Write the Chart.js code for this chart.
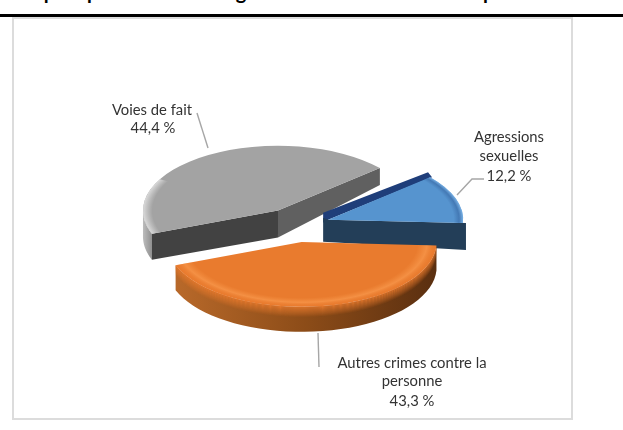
<!DOCTYPE html>
<html lang="fr">
<head>
<meta charset="utf-8">
<title>Catégories de crimes contre la personne</title>
<script src="https://cdn.jsdelivr.net/npm/chart.js@4"></script>
<style>
  html, body { margin: 0; padding: 0; background: #fff; overflow: hidden; }
  #page { position: relative; width: 623px; height: 430px; overflow: hidden; }
  #title1, #title2 { position: absolute; top: -21px; font: bold 20px/25px Lato, sans-serif; color: #000; white-space: nowrap; }
  #title1 { left: 3px; letter-spacing: 3px; }
  #title2 { left: 192px; letter-spacing: 0.6px; }
  #rule { position: absolute; left: 0; top: 14px; width: 623px; height: 3px; background: #000; }
  #frame { position: absolute; left: 12px; top: 17px; width: 561px; height: 403px; box-sizing: border-box; border: 2px solid #dcdcdc; }
  canvas { position: absolute; left: 0; top: 0; }
</style>
</head>
<body>
<div id="page">
  <div id="title1">Graphique 1 :</div>
  <div id="title2">Catégories de crimes contre la personne</div>
  <div id="rule"></div>
  <div id="frame"></div>
  <canvas id="chart" width="623" height="430"></canvas>
</div>
<script>
// Categories and shares
const categories = ["Agressions sexuelles", "Autres crimes contre la personne", "Voies de fait"];
const shares = [12.2, 43.3, 44.4];
const shareLabels = ["12,2 %", "43,3 %", "44,4 %"];
const sliceColors = ["#5694cf", "#e97b2e", "#a3a3a3"];

// 3D look of the pie
const squash = 0.48;
const pieX = 296;
const pieY = 225;
const explodeDist = [34, 36, 35];
const wallDepth = [27, 25, 26];
const apexDepth = [22, 25, 27];
const startDepth = [22, 25, 26]; // first edge of the slice, clockwise
const endDepth = [27, 25, 17];

const wallStops = [
  ["#8fa3b3", "#8fa3b3"],
  ["#b8692a", "#8c4c18", "#5a2f10"],
  ["#bdbdbd", "#8f8f8f"],
];
const rimStops = [
  [[0.93, "rgba(60,110,170,0)"], [0.97, "rgba(60,110,170,0.7)"], [1, "rgba(130,185,235,0.8)"]],
  [[0.86, "rgba(255,160,80,0)"], [0.93, "rgba(255,165,90,0.5)"], [1, "rgba(233,123,46,0)"]],
  [[0.93, "rgba(215,215,215,0)"], [1, "rgba(225,225,225,0.9)"]],
];
// how far the rim highlight runs from the slice's first edge, in degrees
const rimSweep = [44, 156, 50];
// soft bevel: how far the top colour bleeds down the outer wall
const bevelDepth = [0, 10, 0];

function slicePos(arc, i) {
  const mid = (arc.startAngle + arc.endAngle) / 2;
  return {
    x: pieX + Math.cos(mid) * explodeDist[i],
    y: pieY + Math.sin(mid) * explodeDist[i] * squash,
  };
}

function rimPoint(c, r, angle, drop) {
  return [c.x + Math.cos(angle) * r, c.y + Math.sin(angle) * r * squash + drop];
}

function fillPoly(ctx, pts, fill) {
  ctx.beginPath();
  pts.forEach((p, k) => (k ? ctx.lineTo(p[0], p[1]) : ctx.moveTo(p[0], p[1])));
  ctx.closePath();
  ctx.fillStyle = fill;
  ctx.fill();
}

// outer wall: only the part of the rim that faces the viewer
function drawWall(ctx, c, r, a1, a2, i) {
  const from = Math.max(a1, 0);
  const to = Math.min(a2, Math.PI);
  if (to <= from) return;
  const top = [];
  const bottom = [];
  for (let k = 0; k <= 40; k++) {
    const a = from + ((to - from) * k) / 40;
    top.push(rimPoint(c, r, a, 0));
    bottom.unshift(rimPoint(c, r, a, wallDepth[i]));
  }
  const xs = top.map((p) => p[0]);
  const grad = ctx.createLinearGradient(Math.min(...xs), 0, Math.max(...xs) + 0.1, 0);
  wallStops[i].forEach((col, k) => grad.addColorStop(k / (wallStops[i].length - 1), col));
  fillPoly(ctx, top.concat(bottom), grad);

  for (let d = bevelDepth[i]; d > 0; d--) {
    const strip = [];
    for (let k = 0; k <= 40; k++) {
      strip.push(rimPoint(c, r, from + ((to - from) * k) / 40, d));
    }
    for (let k = 40; k >= 0; k--) {
      strip.push(rimPoint(c, r, from + ((to - from) * k) / 40, d - 1));
    }
    fillPoly(ctx, strip, "rgba(233,123,46," + (1 - d / (bevelDepth[i] + 1)) + ")");
  }
}

const pie3d = {
  id: "pie3d",
  beforeDatasetDraw(chart) {
    const ctx = chart.ctx;
    const arcs = chart.getDatasetMeta(0).data;
    const order = [2, 0, 1];

    order.forEach((i) => {
      const arc = arcs[i];
      const c = slicePos(arc, i);
      const r = arc.outerRadius;
      const s = arc.startAngle;
      const e = arc.endAngle;
      const sP = rimPoint(c, r, s, 0);
      const eP = rimPoint(c, r, e, 0);
      const sD = rimPoint(c, r, s, startDepth[i]);
      const eD = rimPoint(c, r, e, endDepth[i]);
      const apex = [c.x, c.y];
      const apexD = [c.x, c.y + apexDepth[i]];

      if (i === 0) {
        // navy edge showing behind the top of the blue slice
        fillPoly(ctx, [[apex[0] - 5, apex[1] - 7], [sP[0] - 2, sP[1] - 5], [sP[0] + 2, sP[1]], apex, [apex[0] - 5, apex[1] + 3]], "#1f3e7a");
        drawWall(ctx, { x: c.x + 3, y: c.y }, r, s + Math.PI * 2, e + Math.PI * 2, i);
        fillPoly(ctx, [[apex[0] - 5, apex[1] - 2], apex, [eP[0] + 3, eP[1]], [eD[0] + 3, eD[1]], [apexD[0] - 5, apexD[1]]], "#233e58");
      } else if (i === 2) {
        drawWall(ctx, c, r, s, e, i);
        fillPoly(ctx, [apex, eP, eD, apexD], "#606060");
        fillPoly(ctx, [apex, sP, sD, apexD], "#424242");
      } else {
        drawWall(ctx, c, r, s, e, i);
      }

      // top face, drawn by the arc element itself
      ctx.save();
      ctx.translate(c.x, c.y);
      ctx.scale(1, squash);
      ctx.translate(-arc.x, -arc.y);
      arc.draw(ctx);
      ctx.beginPath();
      ctx.moveTo(arc.x, arc.y);
      ctx.arc(arc.x, arc.y, r, s, s + (rimSweep[i] * Math.PI) / 180);
      ctx.closePath();
      const rim = ctx.createRadialGradient(arc.x, arc.y, 0, arc.x, arc.y, r);
      rim.addColorStop(0, rimStops[i][0][1]);
      rimStops[i].forEach((st) => rim.addColorStop(st[0], st[1]));
      ctx.fillStyle = rim;
      ctx.fill();
      ctx.restore();
    });
    return false; // slices are already drawn
  },
  afterDraw(chart) {
    const ctx = chart.ctx;
    ctx.save();
    // leader lines
    ctx.strokeStyle = "#a6a6a6";
    ctx.lineWidth = 1.4;
    [
      [[197, 113], [208, 148]],
      [[484, 179], [472, 179], [457, 195]],
      [[318, 333], [319, 367]],
    ].forEach((line) => {
      ctx.beginPath();
      line.forEach((p, k) => (k ? ctx.lineTo(p[0], p[1]) : ctx.moveTo(p[0], p[1])));
      ctx.stroke();
    });
    // data labels
    ctx.fillStyle = "#333333";
    ctx.font = "14.8px Lato, sans-serif";
    ctx.textAlign = "center";
    ctx.textBaseline = "middle";
    ctx.fillText("Agressions", 509, 137);
    ctx.fillText("sexuelles", 509, 156);
    ctx.fillText(shareLabels[0], 509, 176);
    ctx.fillText("Autres crimes contre la", 412, 363);
    ctx.fillText("personne", 412, 381);
    ctx.fillText(shareLabels[1], 412, 401);
    ctx.fillText("Voies de fait", 152, 110);
    ctx.fillText(shareLabels[2], 153, 128);
    ctx.restore();
  },
};

new Chart(document.getElementById("chart"), {
  type: "pie",
  data: {
    labels: categories,
    datasets: [
      {
        data: shares,
        backgroundColor: sliceColors,
        borderWidth: 0,
      },
    ],
  },
  options: {
    responsive: false,
    animation: false,
    rotation: 49, // blue slice starts 41 degrees above the horizontal
    radius: 135,
    plugins: {
      legend: { display: false },
      tooltip: { enabled: false },
      title: { display: false },
    },
  },
  plugins: [pie3d],
});
</script>
</body>
</html>
